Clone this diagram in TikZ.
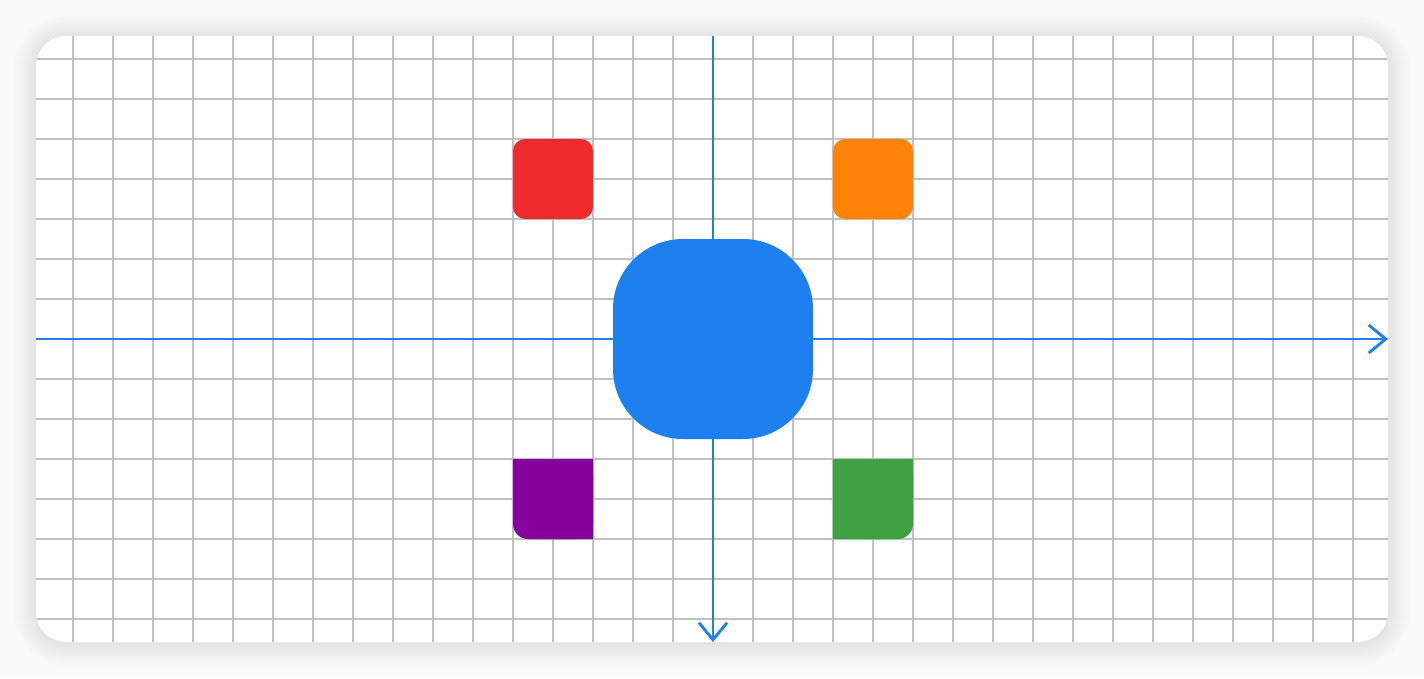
\documentclass[tikz,border=0pt]{standalone}
\usetikzlibrary{arrows.meta}
\definecolor{pagebg}{HTML}{FAFAFA}
\definecolor{gridgray}{HTML}{C0C0C0}
\definecolor{axisblue}{HTML}{1E80EE}
\definecolor{boxred}{HTML}{EE2A2D}
\definecolor{boxorange}{HTML}{FF8308}
\definecolor{boxpurple}{HTML}{87009E}
\definecolor{boxgreen}{HTML}{3FA142}
\definecolor{boxblue}{HTML}{1E80EE}
\tikzset{
  gridline/.style={draw=gridgray, line width=1.8pt},
  axis/.style={draw=axisblue, line width=2.9pt, -{Straight Barb[length=17pt, width=28pt]}},
  tile/.style={rounded corners=12pt}
}

\begin{document}
\begin{tikzpicture}[x=1pt, y=-1pt]
\useasboundingbox[fill=pagebg] (0,0) rectangle (1424,678);
% soft shadow round the card
\foreach \i in {1,...,22}
  \fill[black, opacity=0.0055, rounded corners=30pt+\i pt]
    (36-\i,36-\i+1) rectangle (1388+\i,642+\i+2);
% card
\fill[white, rounded corners=30pt] (36,36) rectangle (1388,642);
% grid, 40 px pitch, centred on the origin
\begin{scope}
  \clip[rounded corners=30pt] (36,36) rectangle (1388,642);
  \foreach \gx in {73,113,...,1353}
    \draw[gridline] (\gx,36) -- (\gx,642);
  \foreach \gy in {59,99,...,619}
    \draw[gridline] (36,\gy) -- (1388,\gy);
\end{scope}
% axes
\coordinate (origin) at (713,339);
\coordinate (xstart) at (36,339);
\coordinate (xend) at (1388,339);
\coordinate (ystart) at (713,36);
\coordinate (yend) at (713,642);
\draw[axis] (xstart) -- (xend);
\draw[axis] (ystart) -- (yend);
% tiles
\fill[boxred, tile] (513,139) rectangle (593,219);
\fill[boxorange, tile] (833,139) rectangle (913,219);
\fill[boxpurple, rounded corners=15pt] (513,459) rectangle (593,539);
\fill[boxpurple] (513,459) rectangle (593,520) (530,459) rectangle (593,539);
\fill[boxgreen, rounded corners=15pt] (833,459) rectangle (913,539);
\fill[boxgreen] (833,459) rectangle (913,520) (833,459) rectangle (896,539);
\fill[boxblue, rounded corners=70pt] (613,239) rectangle (813,439);
\end{tikzpicture}
\end{document}
